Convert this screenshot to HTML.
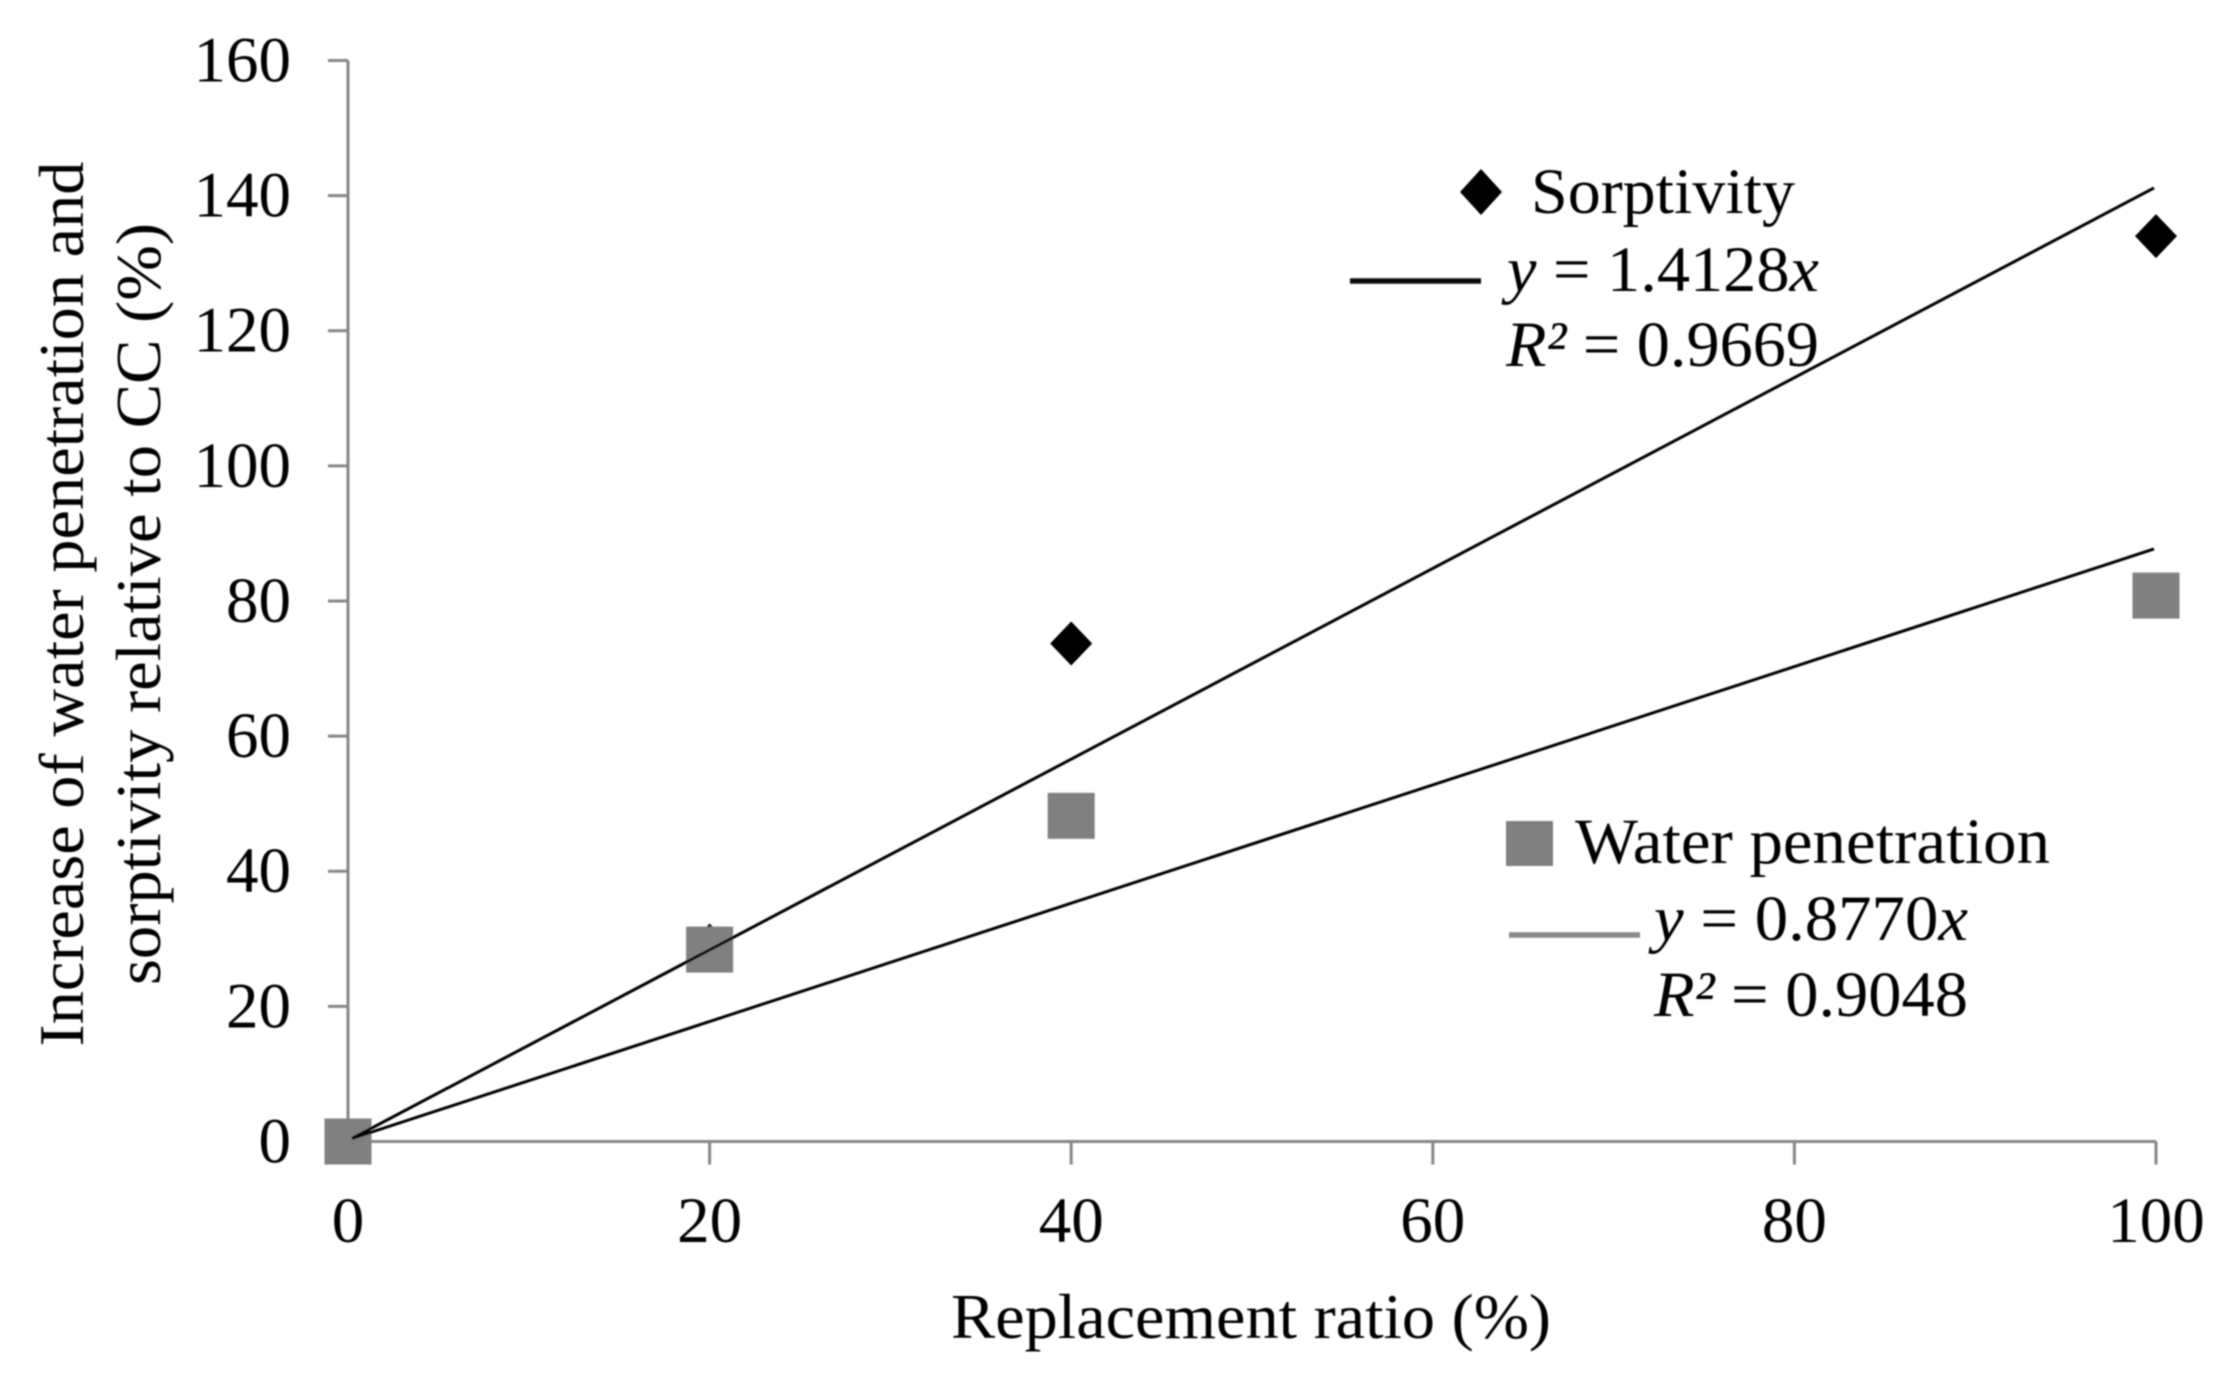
<!DOCTYPE html>
<html lang="en">
<head>
<meta charset="utf-8">
<title>Water penetration and sorptivity vs replacement ratio</title>
<style>
  html, body { margin: 0; padding: 0; background: #fff; }
  svg { display: block; }
  text { font-family: "Liberation Serif", serif; fill: #000; }
</style>
</head>
<body>
<svg id="chart" xmlns="http://www.w3.org/2000/svg" width="2231" height="1377" viewBox="0 0 2231 1377">
  <defs><filter id="soft" x="-5%" y="-5%" width="110%" height="110%"><feGaussianBlur stdDeviation="0.8"/></filter></defs>
  <rect width="2231" height="1377" fill="#fff"/>
  <g id="root" filter="url(#soft)">
    <g id="axes"></g>
    <g id="marks"></g>
    <text transform="translate(83 604) rotate(-90)" text-anchor="middle" font-size="64" textLength="885" lengthAdjust="spacingAndGlyphs">Increase of water penetration and</text>
    <text transform="translate(160 604) rotate(-90)" text-anchor="middle" font-size="64" textLength="762" lengthAdjust="spacingAndGlyphs">sorptivity relative to CC (%)</text>
    <text x="951" y="1338" font-size="64" textLength="600" lengthAdjust="spacingAndGlyphs">Replacement ratio (%)</text>

    <g>
      <polygon points="1481,169 1502,192 1481,215 1460,192" fill="#000"/>
      <text x="1531" y="213" font-size="65" textLength="264" lengthAdjust="spacingAndGlyphs">Sorptivity</text>
      <line x1="1350" y1="281" x2="1481" y2="281" stroke="#111" stroke-width="5.5"/>
      <text x="1507" y="291" font-size="65" textLength="312" lengthAdjust="spacingAndGlyphs"><tspan font-style="italic">y</tspan> = 1.4128<tspan font-style="italic">x</tspan></text>
      <text x="1506" y="366" font-size="65" textLength="313" lengthAdjust="spacingAndGlyphs"><tspan font-style="italic">R²</tspan> = 0.9669</text>
    </g>
    <g>
      <rect x="1506" y="821" width="47" height="45" fill="#808080"/>
      <text x="1575" y="863" font-size="65" textLength="475" lengthAdjust="spacingAndGlyphs">Water penetration</text>
      <line x1="1509" y1="935" x2="1640" y2="935" stroke="#8a8a8a" stroke-width="5.5"/>
      <text x="1654" y="940" font-size="65" textLength="314" lengthAdjust="spacingAndGlyphs"><tspan font-style="italic">y</tspan> = 0.8770<tspan font-style="italic">x</tspan></text>
      <text x="1654" y="1016" font-size="65" textLength="314" lengthAdjust="spacingAndGlyphs"><tspan font-style="italic">R²</tspan> = 0.9048</text>
    </g>
  </g>
</svg>
<script>
var xTicks = [0, 20, 40, 60, 80, 100];
var yTicks = [0, 20, 40, 60, 80, 100, 120, 140, 160];
var replacementRatio = [0, 20, 40, 100];
var sorptivityValues = [0, 29, 73.7, 134];
var waterValues = [0, 28.4, 48.2, 80.8];
var sorptivitySlope = [1.4128];
var waterSlope = [0.877];

var NS = 'http://www.w3.org/2000/svg';
function xScale(v) { return 348 + v * 18.08; }
function yScale(v) { return 1141.5 - v * 6.7565; }
function make(parent, tag, attrs) {
  var el = document.createElementNS(NS, tag);
  for (var k in attrs) { el.setAttribute(k, attrs[k]); }
  parent.appendChild(el);
  return el;
}
var axes = document.getElementById('axes');
var marks = document.getElementById('marks');
var axisColor = '#868686';

var yAxis = make(axes, 'line', {x1: xScale(0), x2: xScale(0), y1: yScale(160), y2: yScale(0), stroke: axisColor, 'stroke-width': 3});


var xAxis = make(axes, 'line', {x1: xScale(0), x2: xScale(100), y1: yScale(0), y2: yScale(0), stroke: axisColor, 'stroke-width': 3});



yTicks.forEach(function (t) {
  var tick = make(axes, 'line', {x1: xScale(0) - 20, x2: xScale(0), y1: yScale(t), y2: yScale(t), stroke: axisColor, 'stroke-width': 3});
  
  
  var label = make(axes, 'text', {x: 291, y: yScale(t) + 21, 'text-anchor': 'end', 'font-size': 65});
  
  
  label.textContent = t;
});
xTicks.forEach(function (t) {
  var tick = make(axes, 'line', {x1: xScale(t), x2: xScale(t), y1: yScale(0), y2: yScale(0) + 23, stroke: axisColor, 'stroke-width': 3});
  
  
  var label = make(axes, 'text', {x: xScale(t), y: 1242, 'text-anchor': 'middle', 'font-size': 65});
  
  
  label.textContent = t;
});

replacementRatio.forEach(function (r, i) {
  var cx = xScale(r), cy = yScale(sorptivityValues[i]);
  var d = make(marks, 'polygon', {points: [cx, cy - 22, cx + 21, cy, cx, cy + 22, cx - 21, cy].join(' '), fill: '#000'});
  
  
});
replacementRatio.forEach(function (r, i) {
  var cx = xScale(r), cy = yScale(waterValues[i]);
  var s = make(marks, 'rect', {x: cx - 23.5, y: cy - 23, width: 47, height: 46, fill: '#808080'});
  
  
});
var trendEnd = replacementRatio[replacementRatio.length - 1];
var t1 = make(marks, 'line', {x1: xScale(0) + 4, y1: yScale(0) - 3, x2: xScale(trendEnd) - 2, y2: yScale(sorptivitySlope[0] * trendEnd) + 1, stroke: '#000', 'stroke-width': 3});


var t2 = make(marks, 'line', {x1: xScale(0) + 4, y1: yScale(0) - 3, x2: xScale(trendEnd) - 2, y2: yScale(waterSlope[0] * trendEnd), stroke: '#000', 'stroke-width': 3});


</script>
</body>
</html>
